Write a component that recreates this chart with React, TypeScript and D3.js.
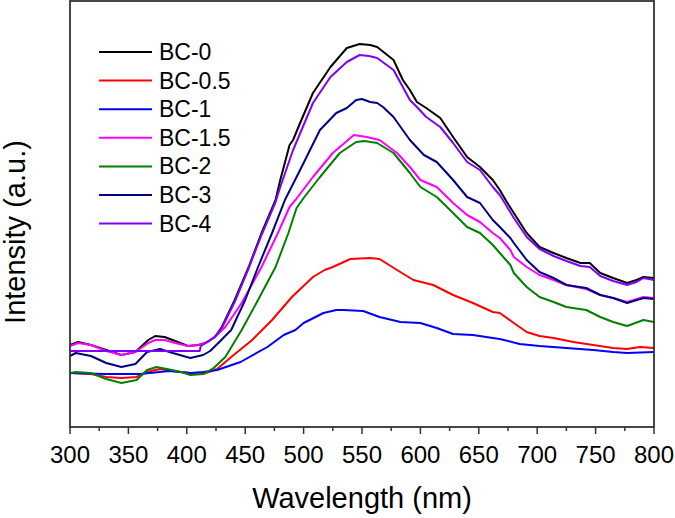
import React from "react";
import * as d3 from "d3";

// Photoluminescence spectra, intensity in arbitrary units: [wavelength (nm), intensity]
const bc0: [number, number][] = [
  [300, 82], [307, 85], [318, 82], [331, 77], [344, 72], [356, 75], [367, 87], [373, 91], [381, 90],
  [390, 86], [401, 81], [410, 82], [416, 84], [424, 90], [430, 100], [441, 127], [453, 160], [464, 194],
  [476, 227], [480, 247], [488, 282], [491, 287], [497, 304], [508, 334], [523, 360], [537, 379],
  [548, 383], [557, 382], [563, 380], [577, 367], [585, 347], [591, 337], [597, 325], [605, 319],
  [617, 309], [628, 290], [640, 270], [651, 260], [662, 247], [668, 237], [674, 225], [680, 214],
  [691, 194], [702, 180], [714, 174], [725, 169], [737, 164], [745, 164], [754, 154], [765, 149],
  [777, 144], [785, 147], [791, 150], [800, 149],
];
const bc05: [number, number][] = [
  [300, 54], [318, 53], [331, 50], [344, 49], [357, 50], [366, 55], [377, 58], [388, 56], [403, 54],
  [414, 53], [426, 58], [438, 70], [456, 87], [473, 107], [490, 130], [508, 150], [518, 157], [525, 160],
  [540, 168], [557, 169], [565, 168], [580, 157], [594, 147], [611, 142], [628, 132], [645, 124],
  [662, 115], [668, 114], [680, 104], [691, 95], [702, 91], [714, 89], [731, 85], [748, 82], [765, 79],
  [777, 78], [788, 80], [800, 79],
];
const bc1: [number, number][] = [
  [300, 54], [330, 53], [360, 53], [385, 56], [403, 54], [414, 55], [426, 57], [446, 65], [469, 80],
  [483, 92], [493, 97], [500, 104], [517, 114], [528, 117], [534, 117], [551, 116], [565, 110], [583, 105],
  [600, 104], [614, 99], [628, 93], [645, 92], [662, 89], [668, 88], [685, 83], [702, 81], [725, 79],
  [748, 77], [765, 75], [777, 74], [800, 75],
];
const bc15: [number, number][] = [
  [300, 81], [307, 84], [318, 82], [331, 76], [344, 72], [356, 75], [367, 84], [373, 87], [381, 87],
  [390, 84], [401, 81], [410, 82], [418, 85], [424, 90], [433, 100], [447, 124], [464, 160], [478, 194],
  [488, 220], [493, 227], [508, 250], [525, 274], [543, 292], [554, 290], [565, 287], [580, 274],
  [591, 260], [600, 247], [614, 240], [628, 224], [640, 212], [651, 205], [662, 194], [668, 189],
  [677, 177], [680, 170], [691, 160], [702, 152], [714, 147], [725, 142], [742, 138], [754, 132],
  [765, 129], [777, 125], [791, 130], [800, 129],
];
const bc2: [number, number][] = [
  [300, 54], [305, 55], [318, 54], [331, 48], [344, 44], [357, 47], [366, 57], [374, 60], [383, 58],
  [395, 55], [403, 52], [414, 53], [423, 59], [433, 70], [447, 97], [461, 127], [476, 160], [487, 194],
  [494, 219], [500, 229], [514, 250], [531, 274], [545, 285], [552, 286], [563, 284], [577, 274],
  [591, 254], [600, 240], [614, 230], [628, 214], [640, 200], [651, 194], [662, 182], [668, 174],
  [677, 162], [680, 154], [691, 140], [702, 130], [714, 125], [725, 120], [742, 117], [754, 110],
  [765, 105], [777, 101], [791, 107], [800, 105],
];
const bc3: [number, number][] = [
  [300, 71], [305, 74], [318, 71], [331, 64], [344, 60], [356, 63], [366, 75], [377, 78], [388, 74],
  [403, 69], [414, 72], [420, 76], [427, 84], [438, 97], [450, 127], [461, 160], [473, 194], [484, 227],
  [497, 257], [514, 297], [528, 314], [537, 319], [545, 327], [550, 328], [557, 325], [563, 324],
  [568, 320], [577, 310], [580, 305], [591, 287], [603, 272], [614, 265], [628, 247], [640, 230],
  [651, 224], [662, 207], [668, 200], [677, 189], [680, 184], [691, 167], [702, 155], [714, 149],
  [725, 142], [742, 139], [754, 132], [765, 129], [777, 124], [791, 129], [800, 128],
];
const bc4: [number, number][] = [
  [300, 76], [411, 76], [412, 81], [424, 90], [430, 99], [441, 125], [453, 159], [464, 192], [476, 225],
  [480, 240], [491, 277], [508, 324], [523, 350], [537, 365], [548, 372], [556, 371], [563, 369],
  [577, 357], [591, 327], [597, 320], [605, 310], [617, 300], [628, 284], [640, 265], [651, 257],
  [662, 240], [668, 232], [680, 209], [691, 190], [702, 178], [714, 171], [725, 166], [737, 161],
  [745, 160], [754, 151], [765, 146], [777, 142], [785, 145], [791, 149], [800, 147],
];

const seriesNames = ["BC-0", "BC-0.5", "BC-1", "BC-1.5", "BC-2", "BC-3", "BC-4"];
const seriesData = [bc0, bc05, bc1, bc15, bc2, bc3, bc4];
const seriesColors = ["#000000", "#ff0000", "#0000ff", "#ff00ff", "#008000", "#000080", "#8000ff"];
const xTicks = [300, 350, 400, 450, 500, 550, 600, 650, 700, 750, 800];
const xMinorTicks = [325, 375, 425, 475, 525, 575, 625, 675, 725, 775];

const W = 675;
const H = 518;
const FONT = "Arial, 'Liberation Sans', Helvetica, sans-serif";

export default function App() {
  const left = 70, right = 654, top = 1, bottom = 427;
  const x = d3.scaleLinear().domain([300, 800]).range([left, right]);
  const y = d3.scaleLinear().domain([0, 426]).range([bottom, top]);
  const line = d3
    .line<[number, number]>()
    .x((d) => x(d[0]))
    .y((d) => y(d[1]));
  const axisColor = "#333333";

  return (
    <svg
      width={W}
      height={H}
      style={{ position: "absolute", left: 0, top: 0, background: "#fff" }}
      fontFamily={FONT}
    >
      <rect x={0} y={0} width={W} height={H} fill="#fff" />
      <g>
        {seriesData.map((d, i) => (
          <path
            key={seriesNames[i]}
            d={line(d) || ""}
            fill="none"
            stroke={seriesColors[i]}
            strokeWidth={2}
            strokeLinejoin="round"
          />
        ))}
      </g>
      <rect
        x={left}
        y={top}
        width={right - left}
        height={bottom - top}
        fill="none"
        stroke={axisColor}
        strokeWidth={1.8}
      />
      {xTicks.map((t) => (
        <g key={"t" + t}>
          <line x1={x(t)} x2={x(t)} y1={bottom} y2={bottom + 7} stroke={axisColor} strokeWidth={1.5} />
          <text x={x(t)} y={463} fontSize={24} textAnchor="middle" fill="#000">
            {t}
          </text>
        </g>
      ))}
      {xMinorTicks.map((t) => (
        <line key={"m" + t} x1={x(t)} x2={x(t)} y1={bottom} y2={bottom + 4} stroke={axisColor} strokeWidth={1.5} />
      ))}
      <text x={(left + right) / 2} y={508} fontSize={29} textAnchor="middle" fill="#000">
        Wavelength (nm)
      </text>
      <text
        transform={`translate(25, 232) rotate(-90)`}
        fontSize={29}
        textAnchor="middle"
        fill="#000"
      >
        Intensity (a.u.)
      </text>
      <g>
        {seriesNames.map((n, i) => {
          const ry = 52 + i * 28.6;
          return (
            <g key={"l" + n}>
              <line x1={99} x2={152} y1={ry} y2={ry} stroke={seriesColors[i]} strokeWidth={2} />
              <text x={159} y={ry + 8} fontSize={23} fill="#000">
                {n}
              </text>
            </g>
          );
        })}
      </g>
    </svg>
  );
}
